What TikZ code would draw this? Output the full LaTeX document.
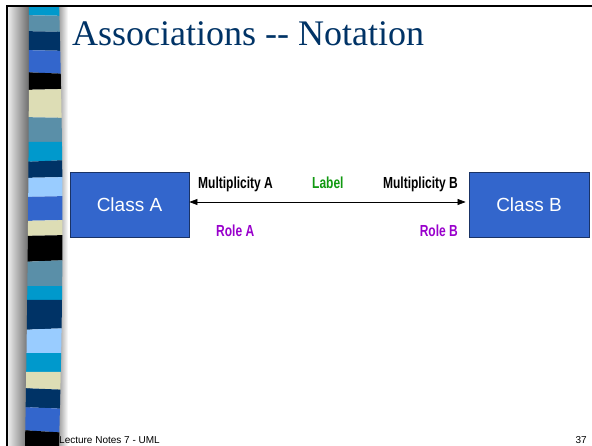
\documentclass[tikz,border=0pt]{standalone}
\usepackage{fontspec}
\setmainfont{Liberation Serif}
\newfontfamily\arialfont{Liberation Sans}
\newfontfamily\condfont[FakeStretch=0.75]{Liberation Sans Bold}
\usetikzlibrary{arrows.meta}

\definecolor{titleblue}{HTML}{003366}
\definecolor{stripecyan}{HTML}{0099CC}
\definecolor{stripesteel}{HTML}{5A8FA8}
\definecolor{stripenavy}{HTML}{003366}
\definecolor{striperoyal}{HTML}{3366CC}
\definecolor{stripebeige}{HTML}{DDDDB5}
\definecolor{stripelight}{HTML}{99CCFF}
\definecolor{classfill}{HTML}{3366CC}
\definecolor{classline}{HTML}{1A3366}
\definecolor{labelgreen}{HTML}{119911}
\definecolor{rolepurple}{HTML}{9900CC}

\tikzset{
  classbox/.style={draw=classline, line width=0.8pt, fill=classfill,
    minimum height=65pt, inner sep=0pt, text=white,
    font=\arialfont\fontsize{19}{22}\selectfont},
  multlabel/.style={inner sep=0pt, font=\condfont\fontsize{16}{18}\selectfont},
  rolelabel/.style={multlabel, text=rolepurple},
  assocarrow/.style={{Triangle[length=8pt,width=6pt]}-{Triangle[length=8pt,width=6pt]}, line width=0.7pt},
}

\begin{document}
\begin{tikzpicture}[x=1pt, y=-1pt]
    \useasboundingbox (0,0) rectangle (592,446);
    \fill[white] (0,0) rectangle (592,446);

    % Side bar shadow
    \shade[left color=white!92!black, right color=black!60] (8,7) rectangle (30,446);
    \shade[left color=black!45, right color=white] (57,7) rectangle (68,446);

    % Side bar stripes
    \begin{scope}
        \clip plot[domain=7:446, samples=30] ({29-4*(\x/446)^2}, \x)
            -- plot[domain=446:7, samples=30] ({59+3.5*sin(\x/446*180)}, \x) -- cycle;
        \foreach \ya/\yb/\za/\zb/\col in {
            7/7/15/16/stripecyan, 15/16/31/32/stripesteel,
            31/32/50/51/stripenavy, 50/51/72/74/striperoyal,
            72/74/90/89/black, 90/89/117/118/stripebeige,
            117/118/142/142/stripesteel, 142/142/162/160/stripecyan,
            162/160/178/177/stripenavy, 178/177/197/196/stripelight,
            197/196/221/220/striperoyal, 221/220/236/235/stripebeige,
            236/235/262/260/black, 262/260/286/286/stripesteel,
            286/286/300/300/stripecyan, 300/300/330/328/stripenavy,
            330/328/353/353/stripelight, 353/353/372/372/stripecyan,
            372/372/388/390/stripebeige, 388/390/407/409/stripenavy,
            407/409/430/433/striperoyal, 430/433/446/446/black}
            \fill[\col] (20,\ya) -- (70,\yb) -- (70,\zb) -- (20,\za) -- cycle;
    \end{scope}

    % Frame
    \draw[line width=2pt] (7,446) -- (7,6) -- (592,6);

    % Title
    \node[anchor=base west, inner sep=0pt, text=titleblue,
        font=\fontsize{36}{40}\selectfont] (title) at (72,46) {Associations -{}- Notation};

    % Classes
    \node[classbox, minimum width=119pt] (classa) at (129.5,204.5) {Class A};
    \node[classbox, minimum width=120pt] (classb) at (529,204.5) {Class B};

    % Association
    \draw[assocarrow] ([yshift=2.5pt]classa.east) -- ([yshift=2.5pt,xshift=-3pt]classb.west);
    \node[multlabel, anchor=base west] (multa) at (198,189) {Multiplicity A};
    \node[multlabel, anchor=base west, text=labelgreen] (assoclabel) at (312,189) {Label};
    \node[multlabel, anchor=base east] (multb) at (458,189) {Multiplicity B};
    \node[rolelabel, anchor=base west] (rolea) at (216,237) {Role A};
    \node[rolelabel, anchor=base east] (roleb) at (458,237) {Role B};

    % Footer
    \node[anchor=base west, inner sep=0pt, font=\arialfont\fontsize{10}{12}\selectfont] (footer) at (59,443) {Lecture Notes 7 - UML};
    \node[anchor=base east, inner sep=0pt, font=\arialfont\fontsize{10}{12}\selectfont] (pagenum) at (587,443) {37};
\end{tikzpicture}
\end{document}
